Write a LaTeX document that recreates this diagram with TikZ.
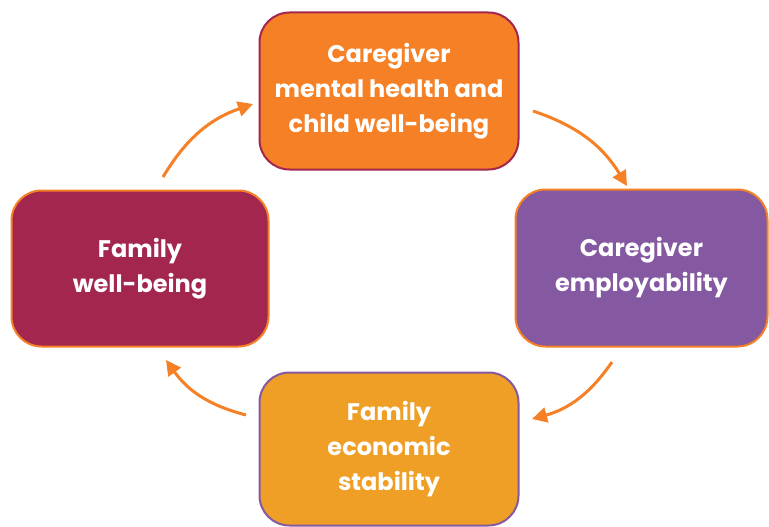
\documentclass[tikz,border=0pt]{standalone}
\usepackage{fontspec}
\setmainfont{Poppins}
\usetikzlibrary{arrows.meta}
\definecolor{cOrange}{HTML}{F58025}
\definecolor{cMaroon}{HTML}{A3264F}
\definecolor{cPurple}{HTML}{8459A1}
\definecolor{cGold}{HTML}{F09F26}
\tikzset{
  x=1pt, y=-1pt,
  stepbox/.style={rounded corners=30pt, line width=2pt, inner sep=0pt,
    align=center, text=white,
    font=\fontsize{24}{35}\selectfont\bfseries},
  cyclearrow/.style={draw=cOrange, line width=3pt, bend left=20,
    -{Triangle[length=15pt,width=15pt]}}
}
\begin{document}
\begin{tikzpicture}
\useasboundingbox (0,0) rectangle (769,527);
\node[stepbox, fill=cOrange, draw=cMaroon, minimum width=259pt, minimum height=157pt] (top) at (389,91) {Caregiver\\mental health and\\child well-being};
\node[stepbox, fill=cMaroon, draw=cOrange, minimum width=257pt, minimum height=156pt] (left) at (140,268.5) {Family\\well-being};
\node[stepbox, fill=cPurple, draw=cOrange, minimum width=252pt, minimum height=157pt] (right) at (641.5,268) {Caregiver\\employability};
\node[stepbox, fill=cGold, draw=cPurple, minimum width=259pt, minimum height=153pt] (bottom) at (389,449) {Family\\economic\\stability};
\coordinate (a1s) at (163,177); \coordinate (a1e) at (253,104);
\coordinate (a2s) at (533,111); \coordinate (a2e) at (627,186);
\coordinate (a3s) at (612,362); \coordinate (a3e) at (532,419);
\coordinate (a4s) at (246,415); \coordinate (a4e) at (166,360);
\draw[cyclearrow] (a1s) to (a1e);
\draw[cyclearrow] (a2s) to (a2e);
\draw[cyclearrow] (a3s) to (a3e);
\draw[cyclearrow] (a4s) to (a4e);
\end{tikzpicture}
\end{document}
